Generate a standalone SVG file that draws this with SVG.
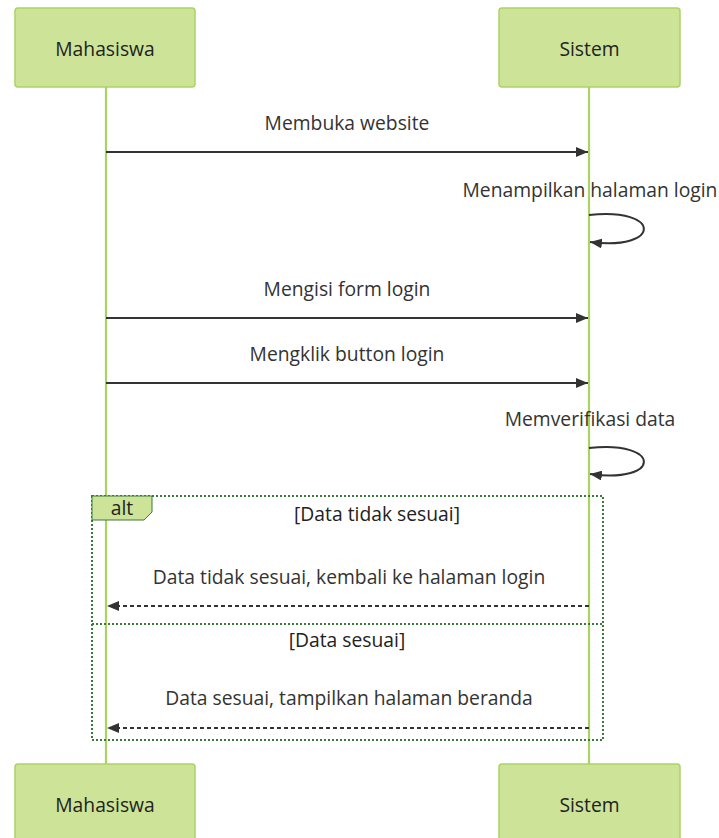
<svg xmlns="http://www.w3.org/2000/svg" width="719" height="838" viewBox="0 0 719 838">
  <style>
    .actor rect { fill: #cde498; stroke: #a9d461; stroke-width: 1.5; }
    .actor text { font-family: "Open Sans", "Noto Sans", sans-serif; font-size: 19.3px; fill: #222; text-anchor: middle; dominant-baseline: central; }
    .lifeline { stroke: #a9d461; stroke-width: 2.2; }
    .msg { stroke: #333; stroke-width: 2; fill: none; }
    .dash { stroke-dasharray: 4 3; }
    .label { font-family: "Open Sans", "Noto Sans", sans-serif; font-size: 19.3px; fill: #333; text-anchor: middle; }
    .frame { fill: none; stroke: #3a7a3a; stroke-width: 2; stroke-dasharray: 2 2; }
    .altlabel { fill: #cde498; stroke: #3a7a3a; stroke-width: 1; }
  </style>
  <defs>
    <marker id="arrowhead" viewBox="0 0 12 10" refX="12" refY="5" markerWidth="12" markerHeight="10" markerUnits="userSpaceOnUse" orient="auto">
      <path d="M0,0 L12,5 L0,10 z" fill="#333"/>
    </marker>
  </defs>

  <!-- lifelines -->
  <g id="lifelines">
    <line class="lifeline" x1="106" y1="87" x2="106" y2="764"/>
    <line class="lifeline" x1="589" y1="87" x2="589" y2="764"/>
  </g>

  <!-- participants (top) -->
  <g id="actor-mahasiswa-top" class="actor">
    <rect x="15" y="8" width="180" height="79" rx="3"/>
    <text x="105" y="48">Mahasiswa</text>
  </g>
  <g id="actor-sistem-top" class="actor">
    <rect x="499" y="8" width="181" height="79" rx="3"/>
    <text x="589.5" y="48">Sistem</text>
  </g>

  <!-- alt frame -->
  <g id="alt-frame">
    <rect class="frame" x="92" y="496" width="511" height="244"/>
    <line class="frame" x1="92" y1="624" x2="603" y2="624"/>
    <path class="altlabel" d="M92,496 H152 V512 L144,520 H92 z"/>
    <text class="label" x="122" y="515" style="fill:#222">alt</text>
    <text class="label" x="377" y="521" style="fill:#222">[Data tidak sesuai]</text>
    <text class="label" x="347" y="647" style="fill:#222">[Data sesuai]</text>
  </g>

  <!-- messages -->
  <g id="connectors">
    <line class="msg" x1="106" y1="152" x2="588" y2="152" marker-end="url(#arrowhead)"/>
    <path class="msg" d="M589,215 C662,207 662,251 590,242" marker-end="url(#arrowhead)"/>
    <line class="msg" x1="106" y1="318" x2="588" y2="318" marker-end="url(#arrowhead)"/>
    <line class="msg" x1="106" y1="383" x2="588" y2="383" marker-end="url(#arrowhead)"/>
    <path class="msg" d="M589,448 C662,440 662,484 590,474" marker-end="url(#arrowhead)"/>
    <line class="msg dash" x1="589" y1="606" x2="107" y2="606" marker-end="url(#arrowhead)"/>
    <line class="msg dash" x1="589" y1="728" x2="107" y2="728" marker-end="url(#arrowhead)"/>
  </g>

  <!-- message labels -->
  <g id="message-labels">
    <text class="label" x="347" y="130">Membuka website</text>
    <text class="label" x="590" y="197">Menampilkan halaman login</text>
    <text class="label" x="347" y="296">Mengisi form login</text>
    <text class="label" x="347" y="361">Mengklik button login</text>
    <text class="label" x="590" y="426">Memverifikasi data</text>
    <text class="label" x="349" y="584">Data tidak sesuai, kembali ke halaman login</text>
    <text class="label" x="349" y="705">Data sesuai, tampilkan halaman beranda</text>
  </g>

  <!-- participants (bottom) -->
  <g id="actor-mahasiswa-bottom" class="actor">
    <rect x="15" y="764" width="180" height="79" rx="3"/>
    <text x="105" y="804">Mahasiswa</text>
  </g>
  <g id="actor-sistem-bottom" class="actor">
    <rect x="499" y="764" width="181" height="79" rx="3"/>
    <text x="589.5" y="804">Sistem</text>
  </g>
</svg>
